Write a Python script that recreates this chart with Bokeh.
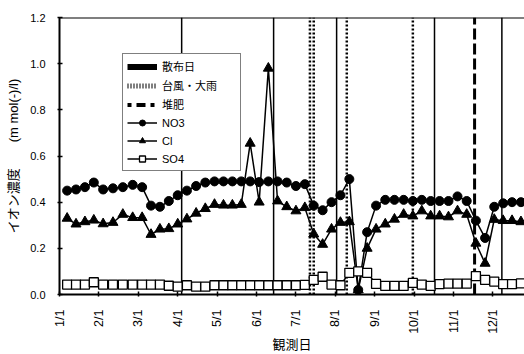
import math
import numpy as np
from bokeh.plotting import figure
from bokeh.models import (Range1d, FixedTicker, Legend, LegendItem, Span,
                          PrintfTickFormatter, ColumnDataSource)
from bokeh.embed import file_html
from bokeh.resources import INLINE

# ---- data (weekly observations) ----
dates = ["1/7", "1/14", "1/21", "1/28", "2/4", "2/11", "2/18", "2/25",
         "3/4", "3/11", "3/18", "3/25", "4/1", "4/8", "4/15", "4/22", "4/29",
         "5/6", "5/13", "5/20", "5/27", "6/3", "6/10", "6/17", "6/24",
         "7/1", "7/8", "7/15", "7/22", "7/29", "8/5", "8/12", "8/19", "8/26",
         "9/2", "9/9", "9/16", "9/23", "9/30", "10/7", "10/14", "10/21", "10/28",
         "11/4", "11/11", "11/18", "11/25", "12/2", "12/9", "12/16", "12/23"]
no3 = [0.450, 0.455, 0.465, 0.485, 0.455, 0.460, 0.465, 0.475,
       0.465, 0.385, 0.380, 0.405, 0.430, 0.450, 0.470, 0.485, 0.490,
       0.490, 0.490, 0.490, 0.490, 0.487, 0.490, 0.490, 0.485,
       0.470, 0.478, 0.385, 0.365, 0.400, 0.430, 0.500, 0.020, 0.270,
       0.385, 0.410, 0.410, 0.410, 0.405, 0.410, 0.405, 0.405, 0.405,
       0.425, 0.405, 0.320, 0.245, 0.380, 0.395, 0.400, 0.400]
cl = [0.330, 0.305, 0.315, 0.322, 0.306, 0.312, 0.347, 0.333,
      0.333, 0.260, 0.283, 0.285, 0.305, 0.327, 0.352, 0.372, 0.390,
      0.387, 0.387, 0.390, 0.655, 0.400, 0.980, 0.405, 0.380,
      0.362, 0.376, 0.262, 0.217, 0.283, 0.312, 0.315, 0.020, 0.200,
      0.283, 0.305, 0.326, 0.347, 0.340, 0.362, 0.340, 0.340, 0.336,
      0.362, 0.347, 0.222, 0.135, 0.325, 0.320, 0.320, 0.315]
so4 = [0.043, 0.043, 0.043, 0.053, 0.043, 0.043, 0.043, 0.043,
       0.043, 0.043, 0.043, 0.038, 0.034, 0.040, 0.034, 0.034, 0.040,
       0.040, 0.040, 0.040, 0.040, 0.040, 0.040, 0.040, 0.040,
       0.040, 0.042, 0.063, 0.077, 0.043, 0.040, 0.094, 0.100, 0.094,
       0.046, 0.037, 0.037, 0.037, 0.050, 0.043, 0.037, 0.045, 0.047,
       0.047, 0.047, 0.080, 0.063, 0.056, 0.045, 0.045, 0.048]

spray_dates = ["4/4", "6/14", "8/2", "10/17", "12/8"]      # 散布日
storm_dates = ["7/12", "7/15", "8/10", "9/30"]             # 台風・大雨
compost_dates = ["11/17"]                                  # 堆肥

month_ticks = list(range(12))
month_labels = ["1/1", "2/1", "3/1", "4/1", "5/1", "6/1",
                "7/1", "8/1", "9/1", "10/1", "11/1", "12/1"]
y_ticks = [0.0, 0.2, 0.4, 0.6, 0.8, 1.0, 1.2]

DAYS = [31, 28, 31, 30, 31, 30, 31, 31, 30, 31, 30, 31]


def pos(d):
    m, day = (int(v) for v in d.split("/"))
    return (m - 1) + (day - 1) / DAYS[m - 1]


FONT = "Liberation Sans, Noto Sans CJK JP"

p = figure(width=524, height=354, output_backend="svg", toolbar_location=None,
           x_range=Range1d(0, 11.8), y_range=Range1d(0, 1.2),
           min_border_left=59, min_border_right=0, min_border_top=17,
           min_border_bottom=56)
p.outline_line_color = None
p.xgrid.visible = False
p.ygrid.visible = False
p.background_fill_color = "white"

# axes
for ax in (p.xaxis, p.yaxis):
    ax.axis_line_width = 2
    ax.axis_line_color = "black"
    ax.major_tick_in = 3
    ax.major_tick_out = 2
    ax.major_tick_line_width = 1.5
    ax.minor_tick_line_color = None
    ax.major_label_text_font = FONT
    ax.major_label_text_color = "black"
    ax.axis_label_text_font = FONT
    ax.axis_label_text_font_style = "normal"
    ax.axis_label_text_font_size = "13px"
    ax.axis_label_text_color = "black"

p.yaxis.ticker = FixedTicker(ticks=y_ticks)
p.yaxis.formatter = PrintfTickFormatter(format="%.1f")
p.yaxis.axis_label = "イオン濃度　　(m mol(-)/l)"
p.yaxis.major_label_text_font_size = "11px"
p.yaxis.major_label_standoff = 12
p.yaxis.axis_label_standoff = 6

p.xaxis.ticker = FixedTicker(ticks=month_ticks)
p.xaxis.major_label_overrides = {t: l for t, l in zip(month_ticks, month_labels)}
p.xaxis.major_label_orientation = math.pi / 2
p.xaxis.major_label_text_font_size = "12.5px"
p.xaxis.major_label_standoff = 13
p.xaxis.axis_label = "観測日"
p.xaxis.axis_label_standoff = 0

p.add_layout(Span(location=1.2, dimension="width", line_color="black", line_width=2))

# event lines
sx = [pos(d) for d in spray_dates]
tx = [pos(d) for d in storm_dates]
cx = [pos(d) for d in compost_dates]
src_spray = ColumnDataSource(dict(x=sx, y0=[0] * len(sx), y1=[1.2] * len(sx)))
src_storm = ColumnDataSource(dict(x=tx, y0=[0] * len(tx), y1=[1.2] * len(tx)))
src_comp = ColumnDataSource(dict(x=cx, y0=[0] * len(cx), y1=[1.2] * len(cx)))

p.segment(x0="x", y0="y0", x1="x", y1="y1", source=src_spray,
          line_color="black", line_width=1.5)
p.segment(x0="x", y0="y0", x1="x", y1="y1", source=src_storm,
          line_color="black", line_width=2.5, line_dash="2 2")
p.segment(x0="x", y0="y0", x1="x", y1="y1", source=src_comp,
          line_color="black", line_width=3, line_dash="11 4")


# legend-only proxies: same event positions, no vertical extent -> nothing drawn in the plot
def proxy(xv):
    return ColumnDataSource(dict(x=xv, y=np.full(len(xv), np.nan)))


g_spray = p.segment(x0="x", y0="y", x1="x", y1="y", source=proxy(sx),
                    line_color="black", line_width=6, line_cap="butt")
g_storm = p.segment(x0="x", y0="y", x1="x", y1="y", source=proxy(tx),
                    line_color="black", line_width=5, line_dash="1 2")
g_comp = p.segment(x0="x", y0="y", x1="x", y1="y", source=proxy(cx),
                   line_color="black", line_width=4, line_dash="4 5 9 5")

# series
xs = [pos(d) for d in dates]
l_no3 = p.line(xs, no3, line_color="black", line_width=1.5)
s_no3 = p.scatter(xs, no3, marker="circle", size=9, fill_color="black", line_color="black")
l_cl = p.line(xs, cl, line_color="black", line_width=1.5)
s_cl = p.scatter(xs, cl, marker="triangle", size=10, fill_color="black", line_color="black")
l_so4 = p.line(xs, so4, line_color="black", line_width=1.5)
s_so4 = p.scatter(xs, so4, marker="square", size=9, fill_color="white",
                  line_color="black", line_width=1.3)

legend = Legend(items=[
    LegendItem(label="散布日", renderers=[g_spray]),
    LegendItem(label="台風・大雨", renderers=[g_storm]),
    LegendItem(label="堆肥", renderers=[g_comp]),
    LegendItem(label="NO3", renderers=[l_no3, s_no3]),
    LegendItem(label="Cl", renderers=[l_cl, s_cl]),
    LegendItem(label="SO4", renderers=[l_so4, s_so4]),
], location=(63, 123))
legend.border_line_color = "black"
legend.border_line_width = 1.5
legend.background_fill_color = "white"
legend.background_fill_alpha = 1
legend.label_text_font = FONT
legend.label_text_font_size = "11px"
legend.label_text_color = "black"
legend.glyph_width = 30
legend.glyph_height = 15
legend.label_height = 15
legend.label_width = 74
legend.label_standoff = 5
legend.spacing = 3
legend.padding = 4
legend.margin = 0
p.add_layout(legend, "center")

open("out.html", "w").write(file_html(p, INLINE))
